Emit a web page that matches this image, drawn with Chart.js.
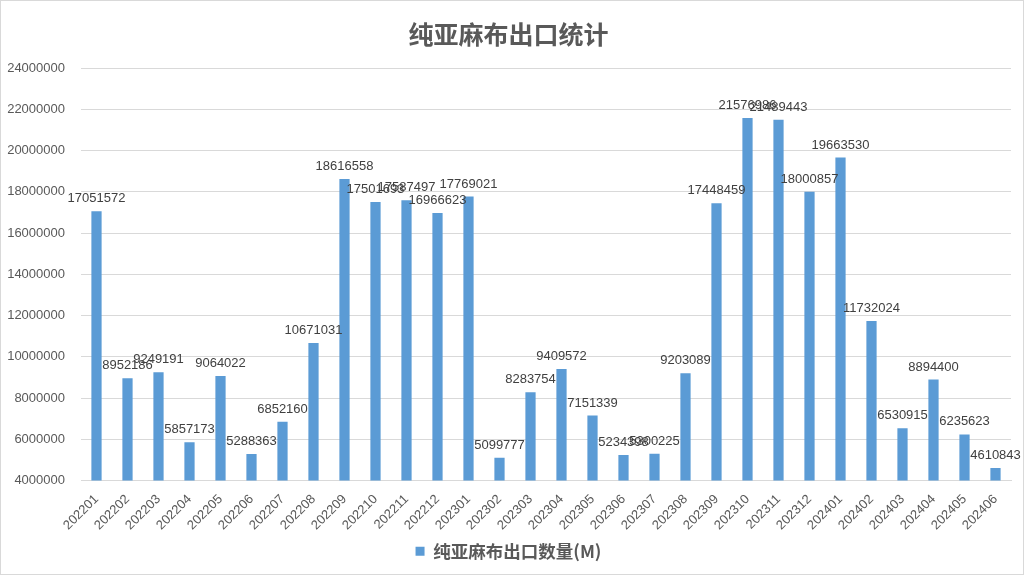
<!DOCTYPE html>
<html>
<head>
<meta charset="utf-8">
<script src="https://cdn.jsdelivr.net/npm/chart.js@4/dist/chart.umd.min.js"></script>
<style>
  html, body { margin: 0; padding: 0; background: #fff; }
  #wrap { position: relative; width: 1024px; height: 575px; box-sizing: border-box; border: 1px solid #d9d9d9; }
</style>
</head>
<body>
<div id="wrap"><canvas id="chart"></canvas></div>
<script>
const months = ['202201','202202','202203','202204','202205','202206','202207','202208','202209','202210','202211','202212',
  '202301','202302','202303','202304','202305','202306','202307','202308','202309','202310','202311','202312',
  '202401','202402','202403','202404','202405','202406'];
const exportQty = [17051572, 8952186, 9249191, 5857173, 9064022, 5288363, 6852160, 10671031, 18616558, 17501693, 17587497, 16966623,
  17769021, 5099777, 8283754, 9409572, 7151339, 5234398, 5300225, 9203089, 17448459, 21576986, 21489443, 18000857,
  19663530, 11732024, 6530915, 8894400, 6235623, 4610843];
const yMin = 4000000;
const yMax = 24000000;
const yStep = 2000000;

const FONT = '"Liberation Sans", "Noto Sans CJK SC", sans-serif';
const CJK = '"Noto Sans CJK SC", "Liberation Sans", sans-serif';

// simple value labels above each bar
const valueLabels = {
  id: 'valueLabels',
  afterDatasetsDraw(chart) {
    const ctx = chart.ctx;
    const meta = chart.getDatasetMeta(0);
    ctx.save();
    ctx.font = '13px ' + FONT;
    ctx.fillStyle = '#404040';
    ctx.textAlign = 'center';
    ctx.textBaseline = 'bottom';
    meta.data.forEach((bar, i) => {
      ctx.fillText(String(exportQty[i]), bar.x, bar.y - 6);
    });
    ctx.restore();
  }
};

new Chart(document.getElementById('chart'), {
  type: 'bar',
  data: {
    labels: months,
    datasets: [{
      label: '纯亚麻布出口数量(M)',
      data: exportQty,
      backgroundColor: '#5B9BD5',
      borderWidth: 0,
      barPercentage: 0.33,
      categoryPercentage: 1
    }]
  },
  options: {
    responsive: true,
    maintainAspectRatio: false,
    animation: false,
    layout: { padding: { left: 5, right: 12, top: 10, bottom: 4 } },
    scales: {
      x: {
        grid: { display: false },
        border: { color: '#d9d9d9' },
        ticks: {
          color: '#595959',
          font: { family: FONT, size: 13 },
          maxRotation: 45,
          minRotation: 45,
          autoSkip: false
        },
        afterFit(scale) { scale.height = 52; }
      },
      y: {
        min: yMin,
        max: yMax,
        grid: { color: '#d9d9d9', drawTicks: false },
        border: { display: false },
        ticks: {
          stepSize: yStep,
          padding: 16,
          color: '#595959',
          font: { family: FONT, size: 13 },
          callback: v => String(v)
        },
        afterFit(scale) { scale.width = 75; }
      }
    },
    plugins: {
      title: {
        display: true,
        text: '纯亚麻布出口统计',
        color: '#595959',
        font: { family: CJK, size: 25, weight: 'bold' },
        padding: { top: 8, bottom: 19 }
      },
      legend: {
        position: 'bottom',
        labels: {
          color: '#595959',
          font: { family: CJK, size: 17.5, weight: 'bold' },
          boxWidth: 9,
          boxHeight: 9,
          padding: 10
        }
      },
      tooltip: { enabled: false }
    }
  },
  plugins: [valueLabels]
});
</script>
</body>
</html>
